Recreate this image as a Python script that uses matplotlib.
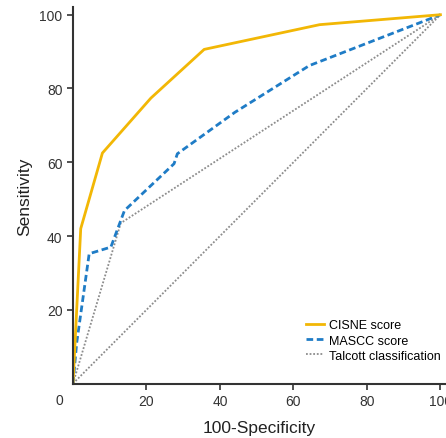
import numpy as np
import matplotlib
matplotlib.use("Agg")
import matplotlib.pyplot as plt

# ---- data ----
cisne_x = [0, 2.1, 8.0, 21.2, 35.7, 67.1, 100]
cisne_y = [0, 42, 62.5, 77.4, 90.6, 97.3, 100]

mascc_x = [0, 1.0, 4.4, 10.3, 14.0, 27.5, 28.4, 44.0, 64.3, 100]
mascc_y = [0, 11, 35.2, 37.0, 46.9, 59.6, 62.3, 73.5, 86.2, 100]

talcott_x = [0, 13.0, 100]
talcott_y = [0, 43.5, 100]

ref_x = [0, 100]
ref_y = [0, 100]

xticks = [20, 40, 60, 80, 100]
yticks = [20, 40, 60, 80, 100]

plt.rcParams['font.family'] = ['Liberation Sans', 'DejaVu Sans']

fig = plt.figure(figsize=(4.46, 4.39), dpi=100)
ax = fig.add_axes([0.1637, 0.124, 0.837, 0.857])

ax.plot(ref_x, ref_y, color="#8c8c8c", lw=1.3, ls=(0, (1, 1)))
ax.plot(talcott_x, talcott_y, color="#8c8c8c", lw=1.3, ls=(0, (1, 1)),
        label="Talcott classification")
ax.plot(mascc_x, mascc_y, color="#1f7cc6", lw=2.0, ls=(0, (2.4, 1.3)),
        label="MASCC score")
ax.plot(cisne_x, cisne_y, color="#f2b705", lw=2.0, label="CISNE score")

ax.set_xlim(0, 101.6)
ax.set_ylim(0, 102)
ax.set_xticks(xticks)
ax.set_yticks(yticks)
ax.tick_params(labelsize=10, colors="#333333", length=4, width=1.2)
ax.text(-3.8, -0.043, "0", transform=ax.get_xaxis_transform(),
        ha="center", va="center", fontsize=10, color="#333333")

for s in ["top", "right"]:
    ax.spines[s].set_visible(False)
for s in ["left", "bottom"]:
    ax.spines[s].set_linewidth(1.5)
    ax.spines[s].set_color("#333333")

ax.set_xlabel("100-Specificity", fontsize=12.5, color="#222222", labelpad=9)
ax.set_ylabel("Sensitivity", fontsize=12.5, color="#222222", labelpad=5)

h, l = ax.get_legend_handles_labels()
ax.legend(h[::-1], l[::-1], loc="lower right", bbox_to_anchor=(0.985, 0.058),
          frameon=False, fontsize=9, handlelength=1.4, handletextpad=0.4,
          labelspacing=0.25, borderpad=0, borderaxespad=0)

fig.savefig("out.png", dpi=100)
